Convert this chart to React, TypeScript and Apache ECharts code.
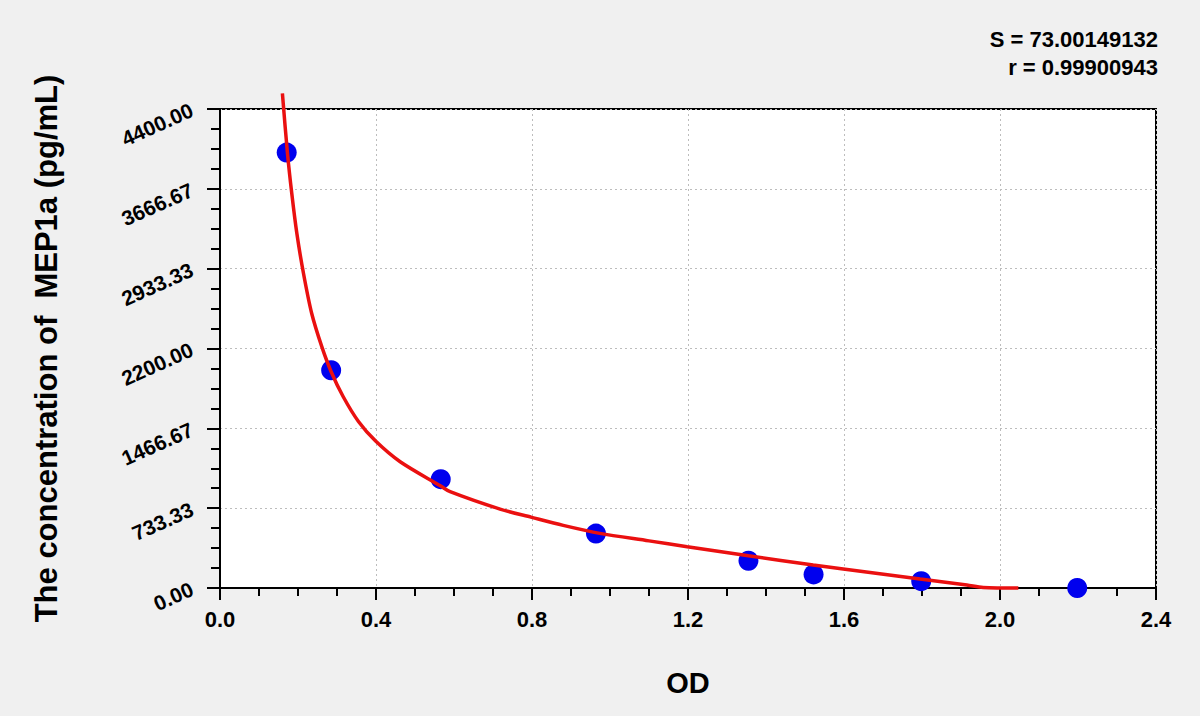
import React, { useEffect, useRef } from "react";
import * as echarts from "echarts";

// Standard points (OD, concentration)
const odStd = [0.171, 0.285, 0.566, 0.964, 1.355, 1.522, 1.798, 2.198];
const concStd = [4000, 2000, 1000, 500, 250, 125, 62.5, 0];

// Fitted curve
const curveOd = [0.16, 0.173, 0.184, 0.197, 0.214, 0.235, 0.261, 0.285, 0.316, 0.355, 0.399, 0.462, 0.566, 0.59, 0.718, 0.799, 0.88, 0.974, 1.1, 1.198, 1.355, 1.521, 1.598, 1.795, 1.915, 1.957, 2.047];
const curveConc = [4544, 3993, 3626, 3258, 2891, 2524, 2217, 1987, 1757, 1530, 1350, 1160, 937, 885, 725, 649, 575, 502, 433, 379, 296, 211, 175, 83, 28, 5, 0];

const yTickLabels = ["0.00", "733.33", "1466.67", "2200.00", "2933.33", "3666.67", "4400.00"];
const xTickLabels = ["0.0", "0.4", "0.8", "1.2", "1.6", "2.0", "2.4"];

const statLines = ["S = 73.00149132", "r = 0.99900943"];

const FONT = "Arial, 'Liberation Sans', sans-serif";

export default function App() {
  const ref = useRef<HTMLDivElement>(null);
  useEffect(() => {
    if (!ref.current) return;
    const chart = echarts.init(ref.current, null, { renderer: "svg" });
    const option = {
      animation: false,
      backgroundColor: "#f0f0f0",
      textStyle: { fontFamily: FONT },
      grid: {
        left: 220,
        right: 44,
        top: 109,
        bottom: 128,
        show: true,
        backgroundColor: "#ffffff",
        borderColor: "#000000",
        borderWidth: 2,
      },
      xAxis: {
        type: "value",
        min: 0,
        max: 2.4,
        interval: 0.4,
        name: "OD",
        nameLocation: "middle",
        nameGap: 80,
        nameTextStyle: { fontSize: 29, fontWeight: "bold", color: "#000", fontFamily: FONT },
        axisLine: { show: true, lineStyle: { color: "#000", width: 2 } },
        axisTick: { show: true, length: 12, lineStyle: { color: "#000", width: 2 } },
        minorTick: { show: true, splitNumber: 4, length: 8, lineStyle: { color: "#000", width: 2 } },
        axisLabel: {
          fontSize: 22,
          fontWeight: "bold",
          color: "#000",
          fontFamily: FONT,
          margin: 20,
          formatter: (_v: number, i: number) => xTickLabels[i] ?? "",
        },
        splitLine: { show: true, lineStyle: { color: "#bdbdbd", width: 1, type: [2, 3] } },
      },
      yAxis: {
        type: "value",
        min: 0,
        max: 4400,
        interval: 4400 / 6,
        name: "The concentration of  MEP1a (pg/mL)",
        nameLocation: "middle",
        nameGap: 158,
        nameRotate: 90,
        nameTextStyle: { fontSize: 31, fontWeight: "bold", color: "#000", fontFamily: FONT },
        axisLine: { show: true, lineStyle: { color: "#000", width: 2 } },
        axisTick: { show: true, length: 13, lineStyle: { color: "#000", width: 2 } },
        minorTick: { show: true, splitNumber: 4, length: 9, lineStyle: { color: "#000", width: 2 } },
        axisLabel: {
          fontSize: 21,
          fontWeight: "bold",
          color: "#000",
          fontFamily: FONT,
          margin: 28,
          rotate: 24,
          formatter: (_v: number, i: number) => yTickLabels[i] ?? "",
        },
        splitLine: { show: true, lineStyle: { color: "#bdbdbd", width: 1, type: [2, 3] } },
      },
      graphic: statLines.map((t, i) => ({
        type: "text",
        right: 42,
        top: 28 + i * 28,
        style: { text: t, fontSize: 22, fontWeight: "bold", fill: "#000", font: `bold 22px ${FONT}` },
      })),
      series: [
        {
          type: "scatter",
          data: odStd.map((x, i) => [x, concStd[i]]),
          symbol: "circle",
          symbolSize: 20,
          itemStyle: { color: "#0000ee", opacity: 1 },
          clip: false,
          z: 2,
        },
        {
          type: "line",
          data: curveOd.map((x, i) => [x, curveConc[i]]),
          showSymbol: false,
          smooth: 0.3,
          clip: false,
          lineStyle: { color: "#ea1010", width: 3.5 },
          z: 3,
        },
      ],
    };
    chart.setOption(option as any);
    return () => chart.dispose();
  }, []);
  return (
    <div
      ref={ref}
      style={{ position: "fixed", left: 0, top: 0, width: 1200, height: 716 }}
    />
  );
}
